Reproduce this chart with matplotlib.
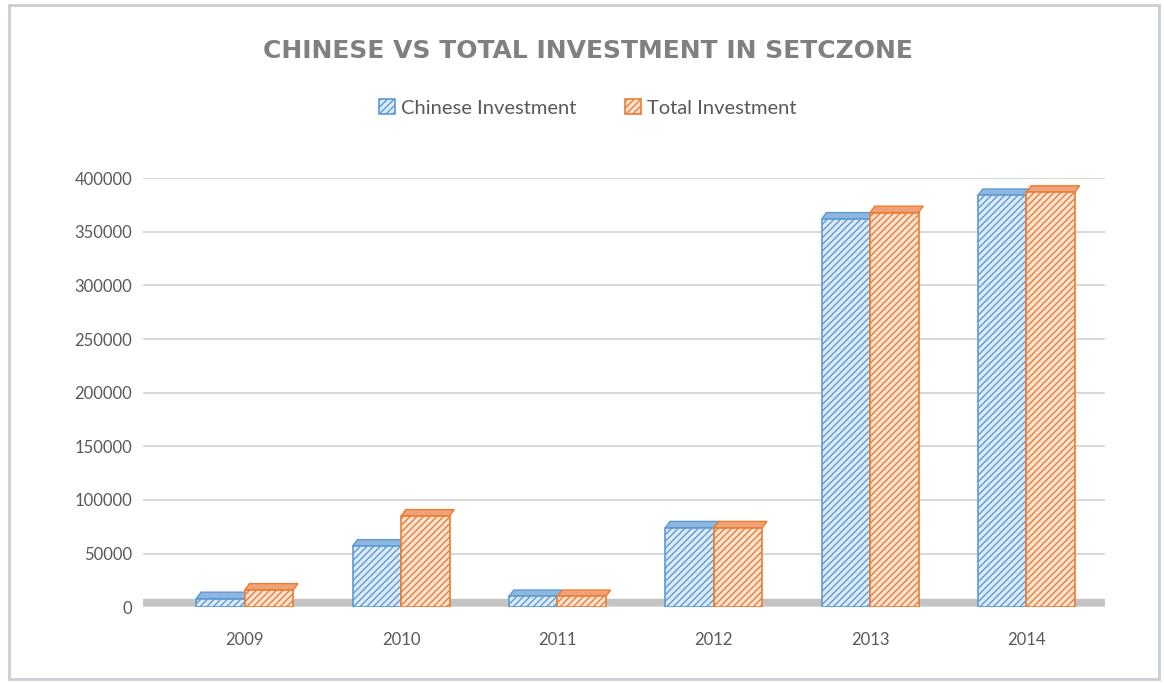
import numpy as np
from matplotlib import pyplot as plt
from matplotlib.patches import Rectangle, Polygon

# values
years = ["2009", "2010", "2011", "2012", "2013", "2014"]
chinese = [8000, 57000, 10000, 74000, 362000, 384000]
total = [16000, 85000, 10000, 74000, 368000, 387000]
yticks = [0, 50000, 100000, 150000, 200000, 250000, 300000, 350000, 400000]

plt.rcParams['font.family'] = ['Lato', 'DejaVu Sans']
plt.rcParams['hatch.linewidth'] = 1.0
grey_text = "#595959"

fig = plt.figure(figsize=(11.64, 6.83), dpi=100)
ax = fig.add_axes([0.123, 0.111, 0.826, 0.628])

# chart border
fig.patches.append(Rectangle((0.008, 0.006), 0.988, 0.987, transform=fig.transFigure,
                             fill=False, edgecolor="#c9ced6", lw=2))

x = np.arange(len(years))
w = 0.31
blue_edge, blue_fill = "#5b9bd5", "#deebf7"
orange_edge, orange_fill = "#ed7d31", "#fce4d6"

b1 = ax.bar(x - w / 2, chinese, w, color=blue_fill, edgecolor=blue_edge, hatch="/////",
            lw=1.2, zorder=3, label="Chinese Investment")
b2 = ax.bar(x + w / 2, total, w, color=orange_fill, edgecolor=orange_edge, hatch="/////",
            lw=1.2, zorder=3, label="Total Investment")

# faux 3d top faces
dx, dy = 0.03, 6000
for bars, edge, top in ((b1, blue_edge, "#8fb6de"), (b2, orange_edge, "#eea27a")):
    for r in bars:
        x0, x1, h = r.get_x(), r.get_x() + r.get_width(), r.get_height()
        ax.add_patch(Polygon([(x0, h), (x1, h), (x1 + dx, h + dy), (x0 + dx, h + dy)],
                             closed=True, facecolor=top, edgecolor=edge, lw=1, zorder=2.9))

# floor
ax.axhspan(0, 7500, color="#c4c4c4", zorder=1)

ax.set_xlim(-0.65, len(years) - 0.5)
ax.set_ylim(0, 400000)
ax.set_yticks(yticks)
ax.set_yticklabels([str(v) for v in yticks])
ax.set_xticks(x)
ax.set_xticklabels(years)
ax.tick_params(axis="both", length=0, labelsize=12, colors=grey_text)
ax.tick_params(axis="x", pad=18)
ax.tick_params(axis="y", pad=8)
ax.grid(axis="y", color="#d9d9d9", lw=1.5, zorder=0)
for s in ax.spines.values():
    s.set_visible(False)

fig.text(0.505, 0.926, "CHINESE VS TOTAL INVESTMENT IN SETCZONE", ha="center", va="center",
         fontsize=18, fontweight="bold", color="#808080", family=["DejaVu Sans"])
fig.legend(handles=[b1, b2], loc="center", bbox_to_anchor=(0.505, 0.842), ncol=2,
           frameon=False, fontsize=14.5, handlelength=0.8, handleheight=0.8,
           handletextpad=0.3, columnspacing=2.4, labelcolor=grey_text)

plt.savefig("out.png", dpi=100)
